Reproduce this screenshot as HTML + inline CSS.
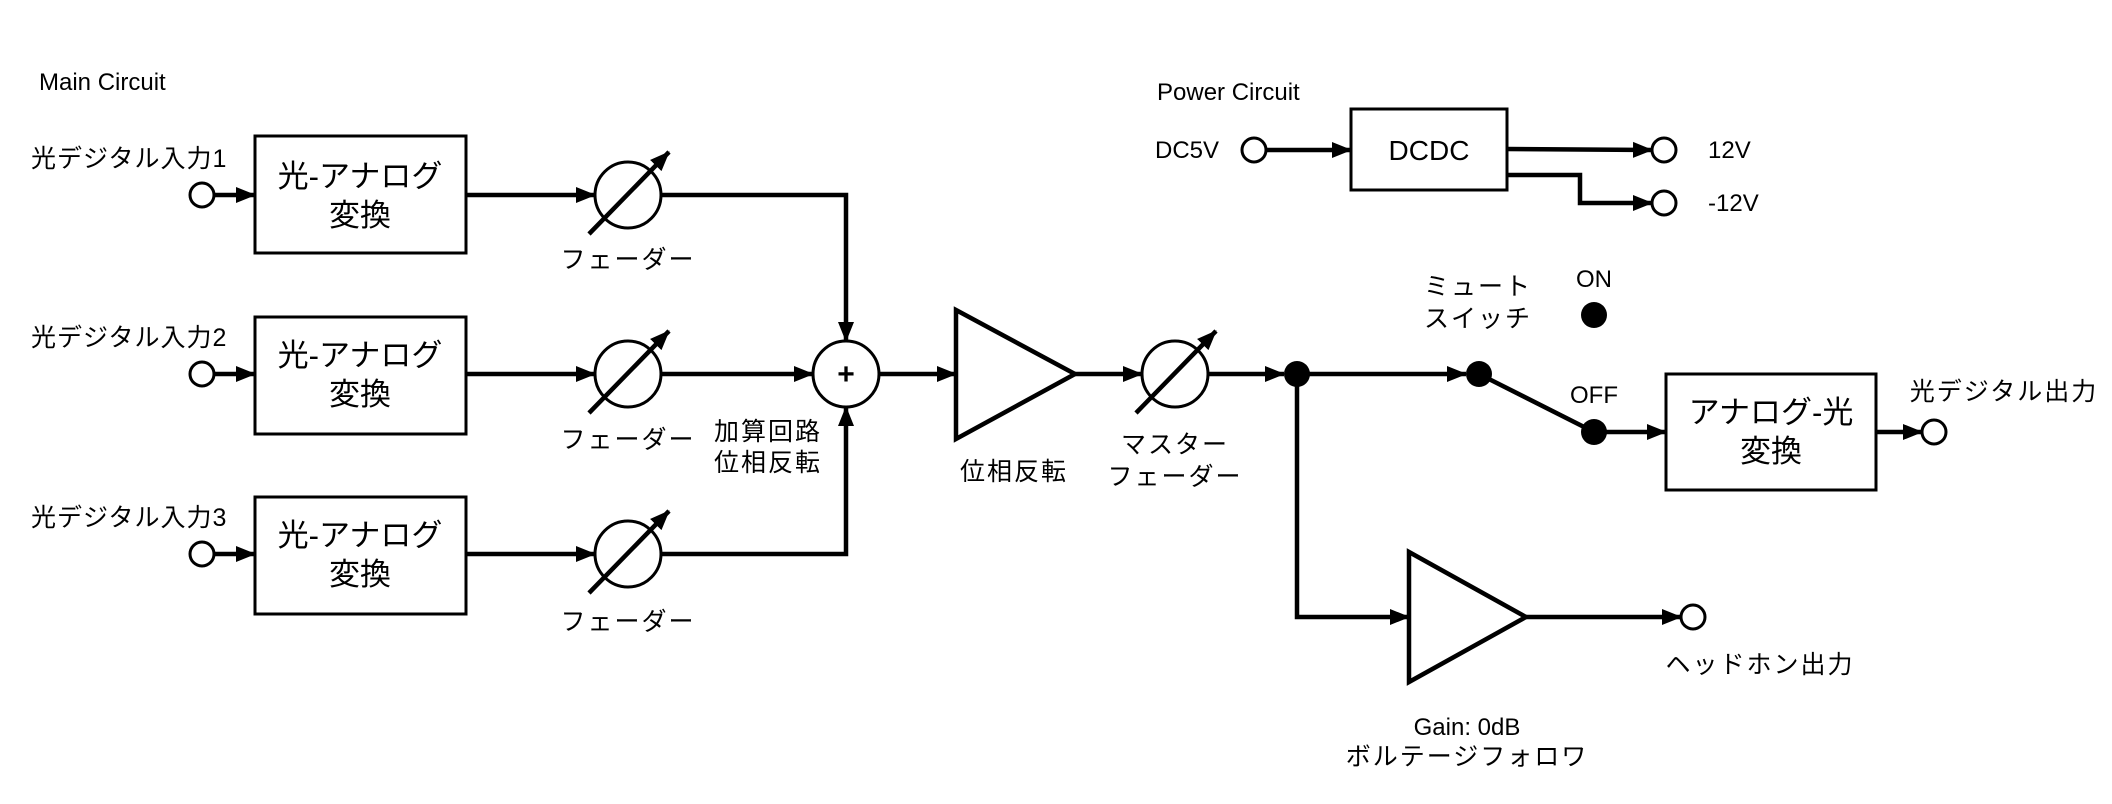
<!DOCTYPE html>
<html><head><meta charset="utf-8"><style>
html,body{margin:0;padding:0;background:#fff;}
svg{display:block;}
text{font-family:"Liberation Sans","Noto Sans CJK JP",sans-serif;fill:#000;}
</style></head><body>
<svg width="2112" height="804" viewBox="0 0 2112 804" xmlns="http://www.w3.org/2000/svg">
<defs>
<marker id="a" markerUnits="userSpaceOnUse" markerWidth="20" markerHeight="18" refX="19" refY="9" orient="auto">
<path d="M0,1 L20,9 L0,17 z" fill="#000"/></marker>
</defs>
<g stroke="#000" stroke-width="4.5" fill="none">
<circle cx="202" cy="195" r="12" fill="#fff" stroke-width="3"/>
<circle cx="202" cy="374" r="12" fill="#fff" stroke-width="3"/>
<circle cx="202" cy="554" r="12" fill="#fff" stroke-width="3"/>
<line x1="214" y1="195" x2="255" y2="195" marker-end="url(#a)"/>
<line x1="214" y1="374" x2="255" y2="374" marker-end="url(#a)"/>
<line x1="214" y1="554" x2="255" y2="554" marker-end="url(#a)"/>
<rect x="255" y="136" width="211" height="117" stroke-width="3"/>
<rect x="255" y="317" width="211" height="117" stroke-width="3"/>
<rect x="255" y="497" width="211" height="117" stroke-width="3"/>
<line x1="466" y1="195" x2="595" y2="195" marker-end="url(#a)"/>
<line x1="466" y1="374" x2="595" y2="374" marker-end="url(#a)"/>
<line x1="466" y1="554" x2="595" y2="554" marker-end="url(#a)"/>
<circle cx="628" cy="195" r="33" stroke-width="3"/>
<circle cx="628" cy="374" r="33" stroke-width="3"/>
<circle cx="628" cy="554" r="33" stroke-width="3"/>
<line x1="589" y1="234" x2="669" y2="152" marker-end="url(#a)"/>
<line x1="589" y1="413" x2="669" y2="331" marker-end="url(#a)"/>
<line x1="589" y1="593" x2="669" y2="511" marker-end="url(#a)"/>
<polyline points="661,195 846,195 846,341" marker-end="url(#a)"/>
<line x1="661" y1="374" x2="813" y2="374" marker-end="url(#a)"/>
<polyline points="661,554 846,554 846,407" marker-end="url(#a)"/>
<circle cx="846" cy="374" r="33" stroke-width="3"/>
<line x1="879" y1="374" x2="956" y2="374" marker-end="url(#a)"/>
<polygon points="956,310 1075,374 956,439"/>
<line x1="1075" y1="374" x2="1142" y2="374" marker-end="url(#a)"/>
<circle cx="1175" cy="374" r="33" stroke-width="3"/>
<line x1="1136" y1="413" x2="1216" y2="331" marker-end="url(#a)"/>
<line x1="1208" y1="374" x2="1284" y2="374" marker-end="url(#a)"/>
<line x1="1297" y1="374" x2="1466" y2="374" marker-end="url(#a)"/>
<line x1="1479" y1="374" x2="1594" y2="432"/>
<line x1="1594" y1="432" x2="1666" y2="432" marker-end="url(#a)"/>
<rect x="1666" y="374" width="210" height="116" stroke-width="3"/>
<line x1="1876" y1="432" x2="1922" y2="432" marker-end="url(#a)"/>
<circle cx="1934" cy="432" r="12" fill="#fff" stroke-width="3"/>
<polyline points="1297,374 1297,617 1409,617" marker-end="url(#a)"/>
<polygon points="1409,552 1526,617 1409,682"/>
<line x1="1526" y1="617" x2="1681" y2="617" marker-end="url(#a)"/>
<circle cx="1693" cy="617" r="12" fill="#fff" stroke-width="3"/>
<circle cx="1254" cy="150" r="12" fill="#fff" stroke-width="3"/>
<line x1="1266" y1="150" x2="1351" y2="150" marker-end="url(#a)"/>
<rect x="1351" y="109" width="156" height="81" stroke-width="3"/>
<line x1="1507" y1="149" x2="1652" y2="150" marker-end="url(#a)"/>
<polyline points="1507,175 1580,175 1580,203 1652,203" marker-end="url(#a)"/>
<circle cx="1664" cy="150" r="12" fill="#fff" stroke-width="3"/>
<circle cx="1664" cy="203" r="12" fill="#fff" stroke-width="3"/>
</g>
<g fill="#000">
<circle cx="1297" cy="374" r="13"/>
<circle cx="1479" cy="374" r="13"/>
<circle cx="1594" cy="432" r="13"/>
<circle cx="1594" cy="315" r="13"/>
</g>
<text x="846" y="384" font-size="30" text-anchor="middle" font-weight="bold">+</text>
<g font-size="25">
<text x="39" y="90" font-size="24">Main Circuit</text>
<text x="31" y="167" letter-spacing="1">光デジタル入力1</text>
<text x="31" y="346" letter-spacing="1">光デジタル入力2</text>
<text x="31" y="526" letter-spacing="1">光デジタル入力3</text>
<g text-anchor="middle" letter-spacing="2">
<text x="628" y="268">フェーダー</text>
<text x="628" y="448">フェーダー</text>
<text x="628" y="630">フェーダー</text>
<text x="768" y="440">加算回路</text>
<text x="768" y="471">位相反転</text>
<text x="1014" y="480">位相反転</text>
<text x="1175" y="453">マスター</text>
<text x="1175" y="485">フェーダー</text>
<text x="1478" y="295">ミュート</text>
<text x="1478" y="327">スイッチ</text>
<text x="2004" y="400">光デジタル出力</text>
<text x="1760" y="673">ヘッドホン出力</text>
<text x="1467" y="765">ボルテージフォロワ</text>
</g>
<g text-anchor="middle" font-size="24">
<text x="1594" y="287">ON</text>
<text x="1594" y="403">OFF</text>
<text x="1467" y="735">Gain: 0dB</text>
</g>
<g font-size="24">
<text x="1157" y="100">Power Circuit</text>
<text x="1155" y="158">DC5V</text>
<text x="1708" y="158">12V</text>
<text x="1708" y="211">-12V</text>
</g>
</g>
<g font-size="31" text-anchor="middle">
<text x="360" y="187">光-アナログ</text>
<text x="360" y="226">変換</text>
<text x="360" y="366">光-アナログ</text>
<text x="360" y="405">変換</text>
<text x="360" y="546">光-アナログ</text>
<text x="360" y="585">変換</text>
<text x="1771" y="423">アナログ-光</text>
<text x="1771" y="462">変換</text>
<text x="1429" y="160" font-size="28">DCDC</text>
</g>
</svg>
</body></html>
